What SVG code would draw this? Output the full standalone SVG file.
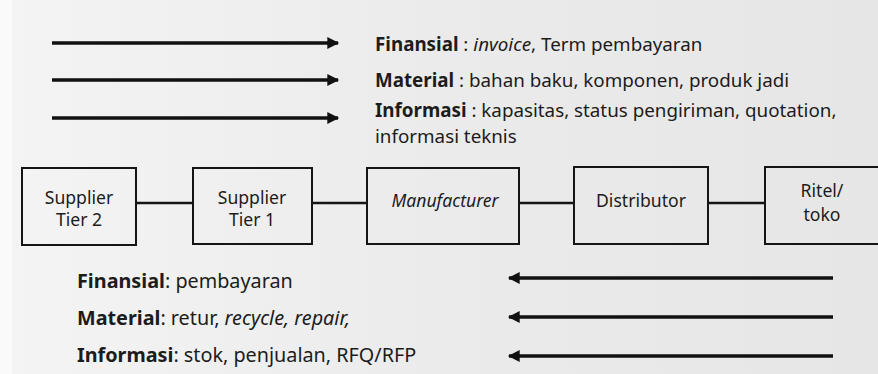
<svg xmlns="http://www.w3.org/2000/svg" width="878" height="374" viewBox="0 0 878 374">
  <defs>
    <linearGradient id="bg" x1="0" y1="0" x2="1" y2="0">
      <stop offset="0" stop-color="#f4f4f4"/>
      <stop offset="0.5" stop-color="#ebebeb"/>
      <stop offset="1" stop-color="#e6e6e6"/>
    </linearGradient>
    <marker id="ah" viewBox="0 0 10 10" refX="9" refY="5" markerWidth="3.6" markerHeight="3.4" markerUnits="strokeWidth" orient="auto">
      <path d="M0,0 L10,5 L0,10 Z" fill="#111"/>
    </marker>
  </defs>
  <style>
    text { font-family: "Noto Sans", "Open Sans", sans-serif; fill: #1c1c1c; }
    .lbl { font-size: 18.8px; }
    .lbl2 { font-size: 19.8px; }
    .b { font-weight: bold; }
    .i { font-style: italic; }
    .node rect { fill: none; stroke: #151515; stroke-width: 2; }
    .node text { font-size: 17.6px; text-anchor: middle; }
    .flow { stroke: #111; stroke-width: 3.5; fill: none; marker-end: url(#ah); }
    .link { stroke: #151515; stroke-width: 2.5; fill: none; }
  </style>
  <rect x="0" y="0" width="878" height="374" fill="url(#bg)"/>
  <rect x="0" y="0" width="12" height="374" fill="#fafafa"/>

  <g id="legend-top">
    <text class="lbl" x="375" y="51"><tspan class="b">Finansial</tspan> : <tspan class="i">invoice</tspan>, Term pembayaran</text>
    <text class="lbl" x="375" y="87"><tspan class="b">Material</tspan> : bahan baku, komponen, produk jadi</text>
    <text class="lbl" x="375" y="117"><tspan class="b">Informasi</tspan> : kapasitas, status pengiriman, quotation,</text>
    <text class="lbl" x="375" y="143">informasi teknis</text>
  </g>

  <g id="legend-bottom">
    <text class="lbl2" x="77" y="288"><tspan class="b">Finansial</tspan>: pembayaran</text>
    <text class="lbl2" x="77" y="325"><tspan class="b">Material</tspan>: retur, <tspan class="i">recycle, repair,</tspan></text>
    <text class="lbl2" x="77" y="362"><tspan class="b">Informasi</tspan>: stok, penjualan, RFQ/RFP</text>
  </g>

  <g id="connectors">
    <line class="link" x1="136" y1="203" x2="193" y2="203"/>
    <line class="link" x1="312" y1="203" x2="367" y2="203"/>
    <line class="link" x1="519" y1="203" x2="574" y2="203"/>
    <line class="link" x1="708" y1="203" x2="765" y2="203"/>
    <line class="flow" x1="52" y1="43" x2="338" y2="43"/>
    <line class="flow" x1="52" y1="80" x2="338" y2="80"/>
    <line class="flow" x1="52" y1="118" x2="338" y2="118"/>
    <line class="flow" x1="833" y1="278" x2="509" y2="278"/>
    <line class="flow" x1="833" y1="317" x2="509" y2="317"/>
    <line class="flow" x1="833" y1="356" x2="509" y2="356"/>
  </g>

  <g id="supplier-tier-2" class="node">
    <rect x="22" y="168" width="114" height="77"/>
    <text x="79" y="204">Supplier</text>
    <text x="79" y="226">Tier 2</text>
  </g>
  <g id="supplier-tier-1" class="node">
    <rect x="193" y="168" width="119" height="76"/>
    <text x="252" y="204">Supplier</text>
    <text x="252" y="226">Tier 1</text>
  </g>
  <g id="manufacturer" class="node">
    <rect x="367" y="168" width="152" height="76"/>
    <text x="445" y="207" font-style="italic">Manufacturer</text>
  </g>
  <g id="distributor" class="node">
    <rect x="574" y="167" width="134" height="77"/>
    <text x="641" y="207">Distributor</text>
  </g>
  <g id="ritel-toko" class="node">
    <rect x="765" y="167" width="130" height="77"/>
    <text x="822" y="197">Ritel/</text>
    <text x="822" y="221">toko</text>
  </g>
</svg>
